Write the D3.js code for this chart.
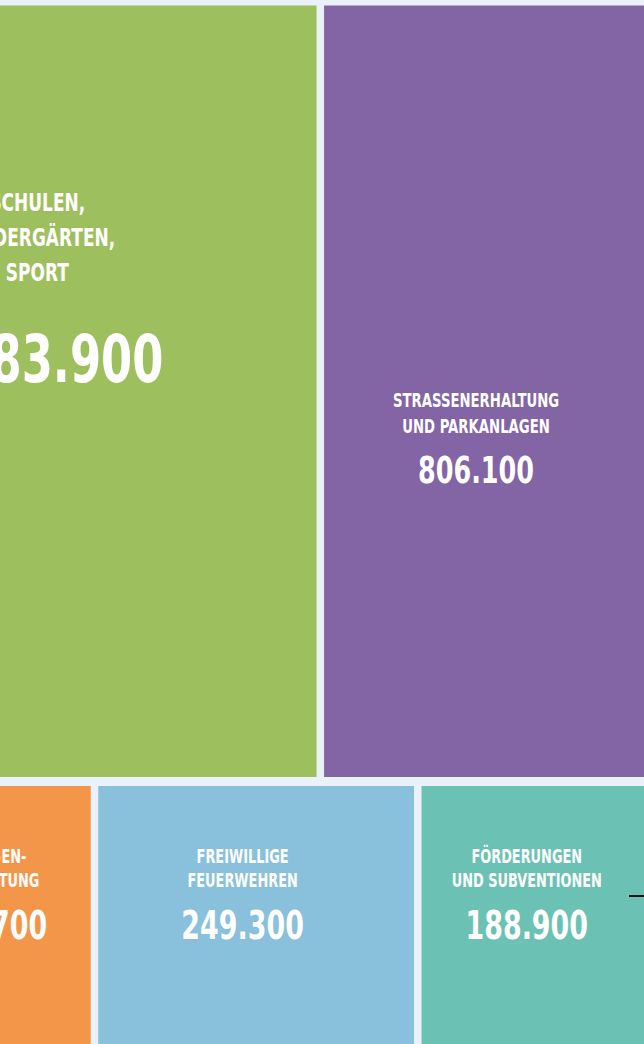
<!DOCTYPE html>
<html>
<head>
<meta charset="utf-8">
<script src="https://cdn.jsdelivr.net/npm/d3@7"></script>
<style>
    html, body { margin: 0; padding: 0; background: #EBF1F8; overflow: hidden; }
    #container svg { display: block; }
    text { font-family: 'DejaVu Sans', sans-serif; font-weight: bold; fill: #fff; }
</style>
</head>
<body>
<div id="container"></div>
<script>
// Ausgaben (Euro) - obere und untere Zeile der Kachelgrafik
const topCategories = [
    ['SCHULEN,', 'KINDERGÄRTEN,', 'SPORT'],
    ['STRASSENERHALTUNG', 'UND PARKANLAGEN']
]
const topValues = [1283900, 806100]

const bottomCategories = [
    ['STRASSEN-', 'BELEUCHTUNG'],
    ['FREIWILLIGE', 'FEUERWEHREN'],
    ['FÖRDERUNGEN', 'UND SUBVENTIONEN']
]
const bottomValues = [146700, 249300, 188900]

const topColors = ['#9EBF5E', '#8364A5']
const bottomColors = ['#F4964A', '#89C0DC', '#6BC2B4']

const width = 644
const height = 1044

// condensed look: squeeze the bold face horizontally
const squeezeLabel = 0.68
const squeezeValue = 0.69

const de = d3.formatLocale({ decimal: ',', thousands: '.', grouping: [3], currency: ['', ' €'] })
const fmt = de.format(',d')

const svg = d3.select('#container').append('svg')
    .attr('width', width).attr('height', height)
    .style('background', '#EBF1F8')

// the chart is cropped, so the rows reach past the window edges
const rows = [
    {
        names: topCategories, values: topValues, colors: topColors,
        x0: -215, x1: 655, y0: 5.5, y1: 777,
        labels: [
            { size: 25, gap: 35, first: 211, valueSize: 65, valueBase: 382 },
            { size: 19.5, gap: 26, first: 407, valueSize: 37, valueBase: 483 }
        ]
    },
    {
        names: bottomCategories, values: bottomValues, colors: bottomColors,
        x0: -92, x1: 659, y0: 786, y1: 1060,
        labels: [
            { size: 19, gap: 24, first: 863, valueSize: 39, valueBase: 939 },
            { size: 19, gap: 24, first: 863, valueSize: 39, valueBase: 939 },
            { size: 19, gap: 24, first: 863, valueSize: 39, valueBase: 939 }
        ]
    }
]

rows.forEach(row => {
    const root = d3.hierarchy({ children: row.values.map((v, i) => ({ name: row.names[i], value: v, color: row.colors[i], label: row.labels[i] })) })
        .sum(d => d.value || 0)

    d3.treemap()
        .tile(d3.treemapDice)
        .size([row.x1 - row.x0, row.y1 - row.y0])
        .paddingInner(7.5)
        .round(false)(root)

    const g = svg.append('g').attr('transform', `translate(${row.x0}, ${row.y0})`)

    const cell = g.selectAll('g').data(root.leaves()).enter().append('g')

    cell.append('rect')
        .attr('x', d => d.x0)
        .attr('y', d => d.y0)
        .attr('width', d => d.x1 - d.x0)
        .attr('height', d => d.y1 - d.y0)
        .attr('fill', d => d.data.color)

    cell.each(function (d) {
        const c = d3.select(this)
        const lab = d.data.label
        const cx = (d.x0 + d.x1) / 2 - 13.5
        d.data.name.forEach((line, j) => {
            c.append('text')
                .attr('transform', `translate(${cx}, ${lab.first - row.y0 + j * lab.gap}) scale(${squeezeLabel}, 1)`)
                .attr('text-anchor', 'middle')
                .style('font-size', lab.size + 'px')
                .text(line)
        })
        c.append('text')
            .attr('transform', `translate(${cx}, ${lab.valueBase - row.y0}) scale(${squeezeValue}, 1)`)
            .attr('text-anchor', 'middle')
            .style('font-size', lab.valueSize + 'px')
            .text(fmt(d.data.value))
    })
})

// leader line coming in from the right side
svg.append('line')
    .attr('x1', 629).attr('x2', width)
    .attr('y1', 896).attr('y2', 896)
    .attr('stroke', '#111').attr('stroke-width', 2)
</script>
</body>
</html>
